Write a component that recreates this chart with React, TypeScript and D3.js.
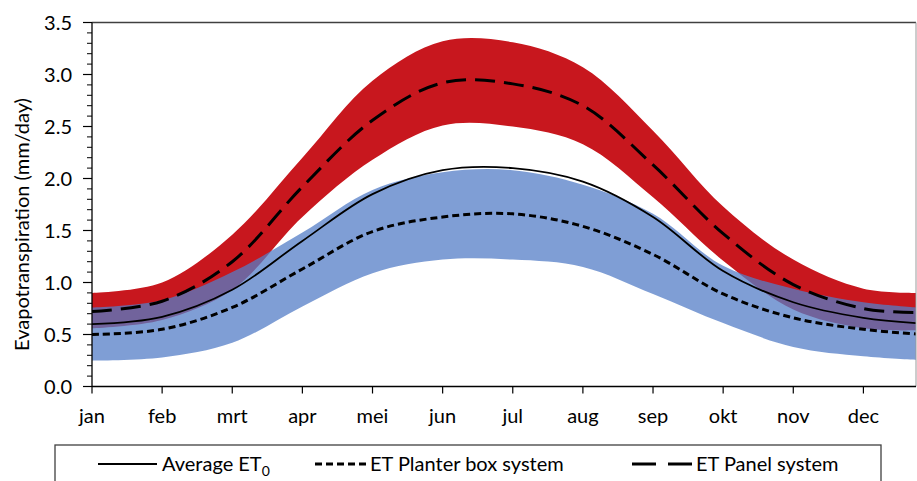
import * as d3 from "d3";

const months = ["jan", "feb", "mrt", "apr", "mei", "jun", "jul", "aug", "sep", "okt", "nov", "dec"];
// position of each reading, in months from 1 january (last one is the right edge of the plot)
const monthPos = [0, 1, 2, 3, 4, 5, 6, 7, 8, 9, 10, 11, 11.75];

const avgET0 = [0.6, 0.67, 0.93, 1.4, 1.85, 2.08, 2.1, 1.97, 1.63, 1.11, 0.81, 0.66, 0.61];
const planterET = [0.5, 0.55, 0.76, 1.13, 1.49, 1.63, 1.66, 1.54, 1.27, 0.89, 0.66, 0.55, 0.505];
const panelET = [0.72, 0.82, 1.2, 1.92, 2.56, 2.92, 2.91, 2.7, 2.13, 1.47, 0.98, 0.75, 0.71];
const planterLow = [0.25, 0.28, 0.42, 0.77, 1.09, 1.22, 1.22, 1.15, 0.89, 0.61, 0.38, 0.29, 0.255];
const planterHigh = [0.76, 0.83, 1.1, 1.48, 1.89, 2.06, 2.08, 1.94, 1.66, 1.16, 0.94, 0.81, 0.76];
const panelLow = [0.56, 0.64, 0.93, 1.63, 2.18, 2.51, 2.5, 2.33, 1.82, 1.21, 0.74, 0.56, 0.54];
const panelHigh = [0.9, 1.0, 1.46, 2.2, 2.94, 3.32, 3.31, 3.07, 2.46, 1.73, 1.22, 0.94, 0.9];

const yTicks = [0, 0.5, 1, 1.5, 2, 2.5, 3, 3.5];

const FONT = "Lato, 'Open Sans', sans-serif";

export default function App() {
  const width = 917;
  const height = 481;
  const left = 92;
  const right = 916;
  const top = 22.5;
  const bottom = 386.5;

  const x = d3.scaleLinear().domain([0, 11.75]).range([left, right]);
  const y = d3.scaleLinear().domain([0, 3.5]).range([bottom, top]);

  const idx = d3.range(monthPos.length);
  const curve = d3.curveCatmullRom.alpha(0.5);

  const band = (lo: number[], hi: number[]) =>
    d3
      .area<number>()
      .x((i) => x(monthPos[i]))
      .y0((i) => y(lo[i]))
      .y1((i) => y(hi[i]))
      .curve(curve)(idx) as string;

  const line = (vals: number[]) =>
    d3
      .line<number>()
      .x((i) => x(monthPos[i]))
      .y((i) => y(vals[i]))
      .curve(curve)(idx) as string;

  const minorTicks = d3.range(0, 36).map((i) => i / 10).filter((v) => Math.round(v * 10) % 5 !== 0);

  const legendY = 464;

  return (
    <svg
      width={width}
      height={height}
      style={{ position: "absolute", left: 0, top: 0, background: "white" }}
      fontFamily={FONT}
    >
      <defs>
        <clipPath id="plot">
          <rect x={left} y={top} width={right - left} height={bottom - top} />
        </clipPath>
      </defs>

      <g clipPath="url(#plot)">
        <path d={band(panelLow, panelHigh)} fill="#c8171e" />
        <path d={band(planterLow, planterHigh)} fill="#547ec7" fillOpacity={0.75} />
        <path d={line(avgET0)} fill="none" stroke="#000" strokeWidth={1.8} />
        <path d={line(planterET)} fill="none" stroke="#000" strokeWidth={3} strokeDasharray="7 4" />
        <path d={line(panelET)} fill="none" stroke="#000" strokeWidth={3} strokeDasharray="20 9" />
      </g>

      {/* frame */}
      <line x1={left} x2={right} y1={top} y2={top} stroke="#404040" strokeWidth={1.5} />
      <line x1={right} x2={right} y1={top} y2={bottom} stroke="#9a9a9a" strokeWidth={1} />

      {/* y axis */}
      <line x1={left} x2={left} y1={top} y2={bottom} stroke="#000" strokeWidth={1.3} />
      {minorTicks.map((v) => (
        <line key={"m" + v} x1={left - 5} x2={left} y1={y(v)} y2={y(v)} stroke="#000" strokeWidth={1} />
      ))}
      {yTicks.map((v) => (
        <g key={v}>
          <line x1={left - 9} x2={left} y1={y(v)} y2={y(v)} stroke="#000" strokeWidth={1.2} />
          <text x={72} y={y(v)} dy="0.35em" textAnchor="end" fontSize={20} fill="#000">
            {d3.format(".1f")(v)}
          </text>
        </g>
      ))}
      <text
        transform={`translate(22,${(top + bottom) / 2 + 20}) rotate(-90)`}
        textAnchor="middle"
        dy="0.35em"
        fontSize={20}
        fill="#000"
      >
        Evapotranspiration (mm/day)
      </text>

      {/* x axis */}
      <line x1={left} x2={right} y1={bottom} y2={bottom} stroke="#000" strokeWidth={1.5} />
      {months.map((m, i) => (
        <g key={m}>
          <line x1={x(i)} x2={x(i)} y1={bottom} y2={bottom + 7} stroke="#000" strokeWidth={1.2} />
          <text x={x(i)} y={423} textAnchor="middle" fontSize={20} fill="#000">
            {m}
          </text>
        </g>
      ))}

      {/* legend */}
      <rect x={55} y={445} width={826} height={60} fill="white" stroke="#404040" strokeWidth={1.3} />
      <line x1={98} x2={157} y1={legendY} y2={legendY} stroke="#000" strokeWidth={1.8} />
      <text x={162} y={legendY} dy="0.35em" fontSize={20} fill="#000">
        Average ET
        <tspan fontSize={14} dy={5}>0</tspan>
      </text>
      <line x1={315} x2={367} y1={legendY} y2={legendY} stroke="#000" strokeWidth={3} strokeDasharray="7 4" />
      <text x={370} y={legendY} dy="0.35em" fontSize={20} fill="#000">
        ET Planter box system
      </text>
      <line x1={632} x2={692} y1={legendY} y2={legendY} stroke="#000" strokeWidth={3} strokeDasharray="24 12" />
      <text x={696} y={legendY} dy="0.35em" fontSize={20} fill="#000">
        ET Panel system
      </text>
    </svg>
  );
}
